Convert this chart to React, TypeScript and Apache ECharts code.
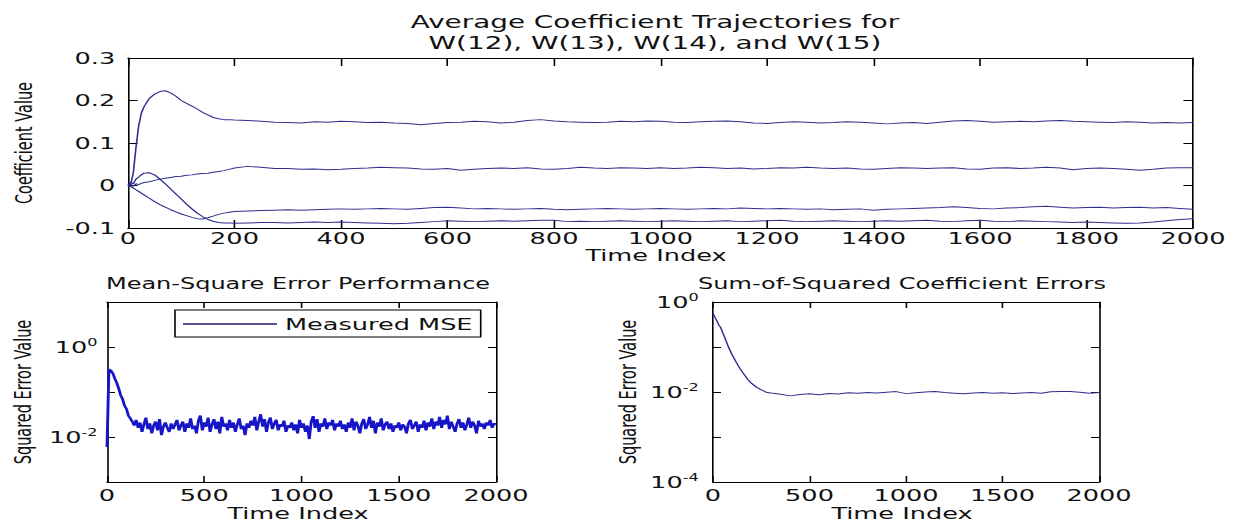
import React, { useEffect, useRef } from 'react';
import * as echarts from 'echarts';

// Page size and the horizontal stretch applied to the whole figure
const PAGE_W = 1233;
const PAGE_H = 530;
const STRETCH = 1.6;
const FONT = '"DejaVu Sans", sans-serif';
const INK = '#111';
const TRAJ_COLOR = '#2e2e8e';
const MSE_COLOR = '#1616c8';

// Average coefficient trajectories (time index, value)
const TRAJ_T = [
  0, 5, 10, 15, 20, 25, 30, 40, 50, 60, 70, 80, 90, 100, 110, 120, 130, 140, 150, 160, 170, 180, 190,
  200, 225, 250, 275, 300, 325, 350, 375, 400, 425, 450, 475, 500, 525, 550, 575, 600, 625, 650, 675,
  700, 725, 750, 775, 800, 825, 850, 875, 900, 925, 950, 975, 1000, 1025, 1050, 1075, 1100, 1125, 1150,
  1175, 1200, 1225, 1250, 1275, 1300, 1325, 1350, 1375, 1400, 1425, 1450, 1475, 1500, 1525, 1550, 1575,
  1600, 1625, 1650, 1675, 1700, 1725, 1750, 1775, 1800, 1825, 1850, 1875, 1900, 1925, 1950, 1975, 2000,
];

const W12 = [
  0, 0.002, 0.03, 0.09, 0.14, 0.17, 0.185, 0.205, 0.215, 0.221, 0.223, 0.218, 0.21, 0.2, 0.193, 0.187, 0.18, 0.172, 0.166, 0.16, 0.157, 0.155, 0.155,
  0.154, 0.153, 0.151, 0.149, 0.148, 0.147, 0.15, 0.149, 0.151, 0.15, 0.148, 0.149, 0.147, 0.146, 0.143, 0.146, 0.148, 0.149, 0.151, 0.15,
  0.147, 0.149, 0.153, 0.155, 0.152, 0.15, 0.149, 0.148, 0.149, 0.151, 0.15, 0.152, 0.151, 0.149, 0.148, 0.15, 0.151, 0.152, 0.15,
  0.147, 0.146, 0.148, 0.15, 0.149, 0.147, 0.148, 0.15, 0.149, 0.147, 0.145, 0.147, 0.148, 0.146, 0.149, 0.152, 0.153,
  0.151, 0.149, 0.15, 0.151, 0.15, 0.152, 0.153, 0.151, 0.15, 0.149, 0.148, 0.15, 0.149, 0.147, 0.148, 0.147, 0.148,
];

const W13 = [
  0, 0.003, -0.002, 0.004, 0.002, 0.005, 0.007, 0.009, 0.012, 0.015, 0.017, 0.019, 0.021, 0.022, 0.024, 0.025, 0.027, 0.028, 0.029, 0.031, 0.033, 0.035, 0.038,
  0.041, 0.045, 0.043, 0.04, 0.04, 0.038, 0.039, 0.037, 0.038, 0.04, 0.041, 0.043, 0.042, 0.041, 0.039, 0.038, 0.04, 0.036, 0.038, 0.04,
  0.041, 0.04, 0.042, 0.039, 0.038, 0.04, 0.043, 0.041, 0.04, 0.042, 0.041, 0.04, 0.042, 0.04, 0.041, 0.043, 0.042, 0.04, 0.041,
  0.039, 0.04, 0.042, 0.041, 0.043, 0.041, 0.04, 0.041, 0.039, 0.038, 0.04, 0.042, 0.041, 0.04, 0.041, 0.042, 0.039,
  0.038, 0.041, 0.042, 0.04, 0.041, 0.043, 0.041, 0.037, 0.04, 0.041, 0.04, 0.038, 0.036, 0.038, 0.041, 0.042, 0.042,
];

const W14 = [
  0, -0.002, -0.006, -0.01, -0.014, -0.018, -0.022, -0.03, -0.038, -0.045, -0.051, -0.057, -0.062, -0.067, -0.071, -0.075, -0.078, -0.079, -0.076, -0.072, -0.068, -0.065, -0.063,
  -0.061, -0.06, -0.059, -0.058, -0.057, -0.058, -0.057, -0.056, -0.055, -0.056, -0.055, -0.054, -0.055, -0.056, -0.054, -0.052, -0.051, -0.053, -0.055, -0.054,
  -0.055, -0.056, -0.055, -0.054, -0.056, -0.057, -0.056, -0.055, -0.054, -0.055, -0.056, -0.055, -0.054, -0.055, -0.056, -0.055, -0.054, -0.055, -0.053,
  -0.054, -0.055, -0.054, -0.055, -0.056, -0.055, -0.057, -0.056, -0.055, -0.058, -0.056, -0.055, -0.054, -0.053, -0.052, -0.05, -0.052,
  -0.054, -0.055, -0.053, -0.052, -0.05, -0.049, -0.051, -0.053, -0.052, -0.051, -0.053, -0.052, -0.051, -0.053, -0.052, -0.054, -0.056,
];

const W15 = [
  0, 0.008, 0.004, 0.015, 0.02, 0.025, 0.029, 0.03, 0.025, 0.015, 0.004, -0.008, -0.02, -0.032, -0.044, -0.055, -0.065, -0.073, -0.08, -0.084, -0.087, -0.088, -0.088,
  -0.089, -0.088, -0.087, -0.087, -0.088, -0.087, -0.086, -0.087, -0.086, -0.087, -0.088, -0.089, -0.09, -0.089, -0.087, -0.085, -0.083, -0.084, -0.085, -0.084,
  -0.083, -0.084, -0.083, -0.082, -0.082, -0.085, -0.084, -0.085, -0.084, -0.083, -0.084, -0.085, -0.084, -0.083, -0.084, -0.085, -0.084, -0.083, -0.085,
  -0.084, -0.083, -0.082, -0.084, -0.085, -0.084, -0.083, -0.084, -0.085, -0.084, -0.083, -0.084, -0.083, -0.082, -0.084, -0.085, -0.083,
  -0.082, -0.084, -0.085, -0.083, -0.084, -0.085, -0.086, -0.087, -0.086, -0.087, -0.088, -0.089, -0.088, -0.086, -0.083, -0.08, -0.078,
];

// Measured mean-square error, one sample every MSE_STEP time indices
const MSE_STEP = 10;
const MSE = [
  0.006, 0.32, 0.3, 0.26, 0.2, 0.16, 0.12, 0.085, 0.07, 0.05, 0.042, 0.03, 0.026, 0.022, 0.018,
  0.024, 0.016, 0.021, 0.013, 0.019, 0.027, 0.015, 0.02, 0.012, 0.018,
  0.022, 0.014, 0.025, 0.011, 0.017, 0.021, 0.016, 0.013, 0.02, 0.015,
  0.019, 0.024, 0.014, 0.018, 0.022, 0.013, 0.02, 0.016, 0.026, 0.015,
  0.018, 0.012, 0.023, 0.03, 0.014, 0.021, 0.017, 0.027, 0.013, 0.019,
  0.025, 0.015, 0.022, 0.012, 0.028, 0.017, 0.02, 0.014, 0.024, 0.016,
  0.021, 0.013, 0.019, 0.026, 0.015, 0.018, 0.011, 0.02, 0.016, 0.023,
  0.018, 0.028, 0.014, 0.022, 0.032, 0.017, 0.025, 0.013, 0.021, 0.027,
  0.015, 0.02, 0.024, 0.014, 0.019, 0.017, 0.023, 0.013, 0.018, 0.016,
  0.021, 0.014, 0.019, 0.012, 0.024, 0.016, 0.02, 0.013, 0.018, 0.009,
  0.022, 0.029, 0.016, 0.025, 0.013, 0.02, 0.017, 0.026, 0.015, 0.021,
  0.018, 0.024, 0.014, 0.02, 0.017, 0.023, 0.015, 0.019, 0.013, 0.021,
  0.016, 0.026, 0.014, 0.022, 0.018, 0.012, 0.02, 0.025, 0.015, 0.019,
  0.028, 0.016, 0.023, 0.012, 0.021, 0.017, 0.026, 0.014, 0.019, 0.022,
  0.015, 0.02, 0.013, 0.018, 0.016, 0.021, 0.014, 0.019, 0.017, 0.012,
  0.02, 0.024, 0.015, 0.018, 0.022, 0.013, 0.019, 0.016, 0.023, 0.014,
  0.021, 0.017, 0.026, 0.015, 0.022, 0.018, 0.028, 0.016, 0.024, 0.019,
  0.03, 0.015, 0.022, 0.017, 0.013, 0.02, 0.025, 0.016, 0.021, 0.014,
  0.019, 0.027, 0.016, 0.022, 0.018, 0.012, 0.023, 0.017, 0.02, 0.015,
  0.021, 0.018, 0.024, 0.016, 0.02, 0.019,
];

// Sum of squared coefficient errors
const SSE_T = [
  0, 10, 20, 30, 40, 50, 60, 80, 100, 120, 140, 160, 180, 200, 225, 250, 275, 300, 350, 400,
  450, 500, 550, 600, 650, 700, 750, 800, 850, 900, 950, 1000, 1050, 1100, 1150, 1200, 1250, 1300,
  1350, 1400, 1450, 1500, 1550, 1600, 1650, 1700, 1750, 1800, 1850, 1900, 1950, 2000,
];
const SSE = [
  0.56, 0.46, 0.38, 0.31, 0.27, 0.21, 0.165, 0.1, 0.066, 0.046, 0.033, 0.025, 0.019, 0.0155, 0.0128, 0.0112, 0.0099, 0.0095, 0.0089, 0.0082,
  0.0088, 0.0091, 0.0087, 0.0093, 0.009, 0.0096, 0.0094, 0.0097, 0.0095, 0.0099, 0.0102, 0.0092, 0.0096, 0.01, 0.0103, 0.0097, 0.0094, 0.0091,
  0.0095, 0.0098, 0.0094, 0.0096, 0.0093, 0.0095, 0.0097, 0.0094, 0.0101, 0.0103, 0.0102, 0.0099, 0.0094, 0.0097,
];

const COEF_TICKS = { min: -0.1, max: 0.3, interval: 0.1 };
const TIME_MAX = 2000;
const MSE_LOG_RANGE = { min: 1e-3, max: 10, labels: [0, -2] };
const SSE_LOG_RANGE = { min: 1e-4, max: 1, labels: [0, -2, -4] };

// horizontal page coordinate -> chart coordinate (before the stretch)
const hx = (x: number) => x / STRETCH;

const GRIDS = [
  { left: hx(128), top: 58, width: hx(1065), height: 170 },
  { left: hx(107), top: 302, width: hx(389), height: 180 },
  { left: hx(713), top: 302, width: hx(386), height: 180 },
];

const labelText = { fontFamily: FONT, color: INK, fontSize: 16 };

const powLabel = (shown: number[]) => (v: number) => {
  const e = Math.round(Math.log10(v));
  return shown.includes(e) ? `{b|10}{s|${e}}` : '';
};

const powRich = {
  b: { fontFamily: FONT, color: INK, fontSize: 16 },
  s: { fontFamily: FONT, color: INK, fontSize: 10, padding: [0, 0, 9, 0] },
};

const frameLine = () => ({ show: true, onZero: false, lineStyle: { color: '#000', width: 1 } });
const innerTicks = (length: number) => ({ show: true, inside: true, length, lineStyle: { color: '#000', width: 1 } });

function xPair(gridIndex: number, interval: number, margin: number, tickLen: number) {
  const base = () => ({
    type: 'value' as const,
    gridIndex,
    min: 0,
    max: TIME_MAX,
    interval,
    axisLine: frameLine(),
    splitLine: { show: false },
    axisTick: innerTicks(tickLen),
  });
  return [
    { ...base(), position: 'bottom', axisLabel: { ...labelText, margin, formatter: (v: number) => String(v) } },
    { ...base(), position: 'top', axisLabel: { show: false } },
  ];
}

function yPair(gridIndex: number, spec: any, labelOpt: any, tickLen: number) {
  const base = () => ({
    gridIndex,
    axisLine: frameLine(),
    splitLine: { show: false },
    axisTick: innerTicks(tickLen),
    ...spec,
  });
  return [
    { ...base(), position: 'left', axisLabel: labelOpt },
    { ...base(), position: 'right', axisLabel: { show: false } },
  ];
}

function buildOption() {
  const coefSeries = [
    { name: 'W(12)', values: W12 },
    { name: 'W(13)', values: W13 },
    { name: 'W(14)', values: W14 },
    { name: 'W(15)', values: W15 },
  ].map((s) => ({
    type: 'line',
    name: s.name,
    xAxisIndex: 0,
    yAxisIndex: 0,
    symbol: 'none',
    lineStyle: { color: TRAJ_COLOR, width: 1 },
    data: TRAJ_T.map((t, i) => [t, s.values[i]]),
  }));

  const axisName = (text: string, x: number, y: number, vertical = false) => ({
    type: 'text',
    x: hx(x),
    y,
    rotation: vertical ? Math.PI / 2 : 0,
    style: {
      text,
      fontFamily: FONT,
      fontSize: vertical ? 14.5 : 16,
      fill: INK,
      textAlign: 'center',
      textVerticalAlign: 'middle',
    },
  });

  const subTitle = (text: string, x: number) => ({
    text,
    left: hx(x),
    top: 276,
    padding: 0,
    textAlign: 'center',
    textStyle: { fontFamily: FONT, fontSize: 15, fontWeight: 'normal', color: INK },
  });

  return {
    animation: false,
    backgroundColor: '#fff',
    title: [
      {
        text: 'Average Coefficient Trajectories for\nW(12), W(13), W(14), and W(15)',
        left: hx(655),
        top: 11,
        padding: 0,
        textAlign: 'center',
        textStyle: { fontFamily: FONT, fontSize: 17.4, fontWeight: 'normal', color: INK, lineHeight: 21 },
      },
      subTitle('Mean-Square Error Performance', 298),
      subTitle('Sum-of-Squared Coefficient Errors', 902),
    ],
    grid: GRIDS,
    xAxis: [...xPair(0, 200, 2, 8), ...xPair(1, 500, 5, 6), ...xPair(2, 500, 5, 6)],
    yAxis: [
      ...yPair(
        0,
        { type: 'value', ...COEF_TICKS },
        { ...labelText, margin: 8, formatter: (v: number) => String(Math.round(v * 10) / 10) },
        6,
      ),
      ...yPair(
        1,
        { type: 'log', min: MSE_LOG_RANGE.min, max: MSE_LOG_RANGE.max },
        { margin: 6, formatter: powLabel(MSE_LOG_RANGE.labels), rich: powRich },
        5,
      ),
      ...yPair(
        2,
        { type: 'log', min: SSE_LOG_RANGE.min, max: SSE_LOG_RANGE.max },
        { margin: 9, formatter: powLabel(SSE_LOG_RANGE.labels), rich: powRich },
        5,
      ),
    ],
    legend: {
      data: [{ name: 'Measured MSE', icon: 'rect' }],
      left: hx(175),
      top: 310,
      padding: [6, 5, 5, 5],
      itemWidth: hx(94),
      itemHeight: 1.3,
      borderColor: '#000',
      borderWidth: 1,
      borderRadius: 0,
      backgroundColor: '#fff',
      itemStyle: { color: '#1b1b6b' },
      textStyle: { ...labelText },
    },
    graphic: [
      axisName('Coefficient Value', 24, 143, true),
      axisName('Squared Error Value', 23, 392, true),
      axisName('Squared Error Value', 628, 392, true),
      axisName('Time Index', 656, 255),
      axisName('Time Index', 298, 513),
      axisName('Time Index', 902, 513),
    ],
    series: [
      ...coefSeries,
      {
        type: 'line',
        name: 'Measured MSE',
        xAxisIndex: 2,
        yAxisIndex: 2,
        symbol: 'none',
        lineStyle: { color: MSE_COLOR, width: 1.8 },
        itemStyle: { color: MSE_COLOR },
        data: MSE.map((v, i) => [i * MSE_STEP, v]),
      },
      {
        type: 'line',
        name: 'Sum of squared coefficient errors',
        xAxisIndex: 4,
        yAxisIndex: 4,
        symbol: 'none',
        lineStyle: { color: TRAJ_COLOR, width: 1 },
        data: SSE_T.map((t, i) => [t, SSE[i]]),
      },
    ],
  };
}

export default function App() {
  const ref = useRef<HTMLDivElement>(null);

  useEffect(() => {
    if (!ref.current) return;
    const chart = echarts.init(ref.current, null, { renderer: 'svg' });
    chart.setOption(buildOption() as any);
    return () => chart.dispose();
  }, []);

  return (
    <div
      style={{
        position: 'absolute',
        left: 0,
        top: 0,
        width: PAGE_W,
        height: PAGE_H,
        overflow: 'hidden',
        background: '#fff',
      }}
    >
      <div
        ref={ref}
        style={{
          width: PAGE_W / STRETCH,
          height: PAGE_H,
          transform: `scaleX(${STRETCH})`,
          transformOrigin: '0 0',
        }}
      />
    </div>
  );
}
